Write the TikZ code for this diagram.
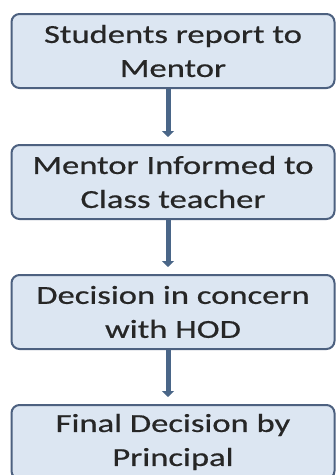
\documentclass[tikz,border=0pt]{standalone}
\usepackage{fontspec}
\newfontfamily\calfont[FakeStretch=1.33,FakeBold=0.6]{Carlito}
\usetikzlibrary{arrows.meta}
\definecolor{boxfill}{HTML}{DCE6F2}
\definecolor{boxline}{HTML}{4D6180}
\definecolor{arrowcol}{HTML}{4A6688}
\definecolor{txtcol}{HTML}{262626}
\tikzset{
  stepbox/.style={draw=boxline, line width=2pt, fill=boxfill, rounded corners=8pt,
    minimum width=323pt, minimum height=74pt, align=center, text=txtcol,
    font=\calfont\fontsize{26pt}{34pt}\selectfont, inner sep=0pt},
  flowarrow/.style={draw=arrowcol, line width=5pt, -{Triangle[width=12pt,length=6pt]}, shorten >=7pt}
}
\begin{document}
\begin{tikzpicture}[x=1pt,y=-1pt]
\clip (0,0) rectangle (336,475);
\useasboundingbox (0,0) rectangle (336,475);
\node[stepbox] (b1) at (173,51) {Students report to\\Mentor};
\node[stepbox] (b2) at (173,182) {Mentor Informed to\\Class teacher};
\node[stepbox] (b3) at (173,312) {Decision in concern\\with HOD};
\node[stepbox] (b4) at (173,442) {Final Decision by\\Principal};
\draw[flowarrow] (b1.south -| 168,0) -- (b2.north -| 168,0);
\draw[flowarrow] (b2.south -| 168,0) -- (b3.north -| 168,0);
\draw[flowarrow] (b3.south -| 168,0) -- (b4.north -| 168,0);
\end{tikzpicture}
\end{document}
